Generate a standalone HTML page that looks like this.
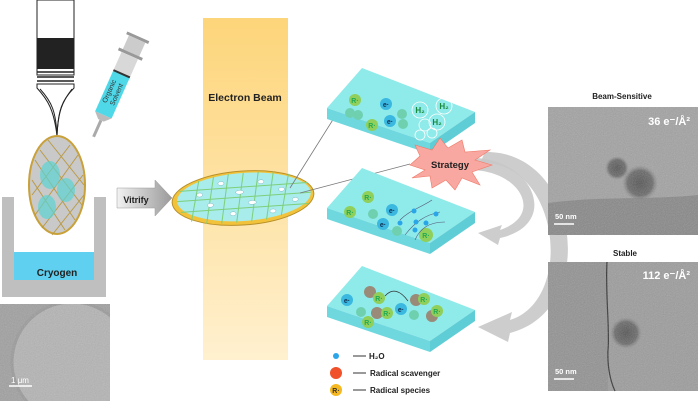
<!DOCTYPE html>
<html><head><meta charset="utf-8"><style>
html,body{margin:0;padding:0;background:#fff;width:699px;height:401px;overflow:hidden;}
svg{display:block;font-family:"Liberation Sans",Arial,sans-serif;font-weight:bold;}
</style></head><body>
<svg width="699" height="401" viewBox="0 0 699 401" xmlns="http://www.w3.org/2000/svg">
<defs>
<linearGradient id="beam" x1="0" y1="0" x2="0" y2="1">
<stop offset="0" stop-color="#fdd57a"/><stop offset="1" stop-color="#fff0cf"/></linearGradient>
<linearGradient id="arr" x1="0" y1="0" x2="1" y2="0">
<stop offset="0" stop-color="#f2f2f2"/><stop offset="1" stop-color="#9a9a9a"/></linearGradient>
<radialGradient id="p1"><stop offset="0" stop-color="#555"/><stop offset="0.7" stop-color="#6a6a6a"/><stop offset="1" stop-color="#8a8a8a" stop-opacity="0"/></radialGradient>
<filter id="noise" x="0" y="0" width="1" height="1"><feTurbulence type="fractalNoise" baseFrequency="0.9" numOctaves="2"/><feColorMatrix type="saturate" values="0"/><feComponentTransfer><feFuncA type="table" tableValues="0 0.3"/></feComponentTransfer></filter>
<clipPath id="cl"><rect x="0" y="304" width="110" height="97"/></clipPath>
</defs>

<rect x="203" y="18" width="85" height="342" fill="url(#beam)"/>
<text x="245" y="101" font-size="10.5" text-anchor="middle" fill="#222">Electron Beam</text>

<rect x="37" y="0" width="37" height="75" fill="#fff" stroke="#222" stroke-width="1"/>
<rect x="37" y="38" width="37" height="31" fill="#222"/>
<line x1="37" y1="72" x2="74" y2="72" stroke="#222" stroke-width="1.5"/>
<line x1="37" y1="77" x2="74" y2="77" stroke="#222" stroke-width="1.5"/>
<line x1="37" y1="81" x2="74" y2="81" stroke="#222" stroke-width="1.5"/>
<path d="M37,84 L74,84 L74,88 C62,100 58,110 57,136 C54,110 48,100 37,88 Z" fill="#fff" stroke="#222" stroke-width="1"/>
<path d="M57,136 C56,112 52,102 40,89 M57,136 C58,112 62,102 72,89" fill="none" stroke="#222"/>

<path d="M2,197 h12 v83 h80 v-83 h12 v100 h-104 Z" fill="#bfbfbf"/>
<rect x="14" y="252" width="80" height="28" fill="#5fd0ef"/>
<text x="57" y="276" font-size="10" text-anchor="middle" fill="#222">Cryogen</text>

<ellipse cx="57" cy="185" rx="28" ry="49" fill="#c9c9c9" stroke="#c9a13a" stroke-width="2"/>
<g stroke="#b8953a" stroke-width="1" opacity="0.9">
<line x1="35" y1="160" x2="75" y2="220"/><line x1="32" y1="180" x2="65" y2="230"/><line x1="40" y1="150" x2="82" y2="205"/><line x1="48" y1="140" x2="84" y2="185"/>
<line x1="35" y1="215" x2="78" y2="155"/><line x1="32" y1="195" x2="70" y2="145"/><line x1="42" y1="228" x2="83" y2="175"/><line x1="52" y1="235" x2="84" y2="195"/>
</g>
<ellipse cx="50" cy="175" rx="10" ry="14" fill="#5dd3d3" opacity="0.7"/>
<ellipse cx="66" cy="190" rx="9" ry="12" fill="#5dd3d3" opacity="0.7"/>
<ellipse cx="47" cy="207" rx="9" ry="12" fill="#5dd3d3" opacity="0.7"/>

<g transform="translate(118,82) rotate(24)">
<rect x="-12" y="-50" width="24" height="3" fill="#999"/>
<rect x="-9" y="-47" width="18" height="15" fill="#ccc"/>
<rect x="-13" y="-32" width="26" height="3" fill="#999"/>
<rect x="-9" y="-29" width="18" height="20" fill="#d8d8d8"/>
<rect x="-9" y="-9" width="18" height="45" fill="#4fd8e8"/>
<rect x="-9" y="-10" width="18" height="2" fill="#333"/>
<path d="M-9,36 L9,36 L3,42 L-3,42 Z" fill="#bbb"/>
<rect x="-1.5" y="42" width="3" height="18" fill="#aaa"/>
<text transform="translate(-2,12) rotate(-90)" font-size="7" font-weight="normal" fill="#333" text-anchor="middle">Organic</text>
<text transform="translate(6,12) rotate(-90)" font-size="7" font-weight="normal" fill="#333" text-anchor="middle">Solvent</text>
</g>

<g clip-path="url(#cl)">
<rect x="0" y="304" width="110" height="97" fill="#a0a0a0"/>
<circle cx="72" cy="362" r="60" fill="#b4b4b4" stroke="#9a9a9a" stroke-width="3"/>
<rect x="0" y="304" width="110" height="97" filter="url(#noise)"/>
</g>
<line x1="9" y1="386" x2="32" y2="386" stroke="#fff" stroke-width="1.5"/>
<text x="20" y="383" font-size="8" font-weight="normal" fill="#fff" text-anchor="middle">1 μm</text>

<path d="M117,188 h38 v-8 l17,18 -17,18 v-8 h-38 Z" fill="url(#arr)" stroke="#999" stroke-width="0.5"/>
<text x="136" y="203" font-size="9" fill="#222" text-anchor="middle">Vitrify</text>

<g transform="rotate(-4 243 198)">
<ellipse cx="243" cy="198" rx="71" ry="27" fill="#f2c33a" stroke="#b8902a"/>
<ellipse cx="244" cy="197" rx="67" ry="24" fill="#a8ecec"/>
<g stroke="#7ecf7a" stroke-width="1">
<line x1="200" y1="178" x2="190" y2="218"/><line x1="215" y1="175" x2="205" y2="221"/><line x1="230" y1="173" x2="220" y2="222"/><line x1="245" y1="173" x2="235" y2="222"/><line x1="260" y1="173" x2="250" y2="222"/><line x1="275" y1="174" x2="265" y2="221"/><line x1="290" y1="177" x2="280" y2="218"/>
<line x1="180" y1="187" x2="308" y2="187"/><line x1="177" y1="197" x2="311" y2="197"/><line x1="180" y1="208" x2="308" y2="208"/>
</g>
<g fill="#fff" stroke="#6ab" stroke-width="0.4">
<ellipse cx="200" cy="192" rx="3" ry="2"/><ellipse cx="222" cy="182" rx="3" ry="2"/><ellipse cx="240" cy="192" rx="4" ry="2"/><ellipse cx="262" cy="183" rx="3" ry="2"/><ellipse cx="282" cy="192" rx="3" ry="2"/>
<ellipse cx="210" cy="203" rx="3" ry="2"/><ellipse cx="232" cy="213" rx="3" ry="2"/><ellipse cx="252" cy="203" rx="4" ry="2"/><ellipse cx="272" cy="213" rx="3" ry="2"/><ellipse cx="295" cy="203" rx="3" ry="2"/>
</g>
</g>

<line x1="290" y1="188" x2="334" y2="118" stroke="#777" stroke-width="0.8"/>
<line x1="300" y1="193" x2="410" y2="164" stroke="#777" stroke-width="0.8"/>

<g id="slab">
<polygon points="327,108 362,68 475,112 430,143" fill="#8feaea"/>
<polygon points="327,108 430,143 430,154 327,119" fill="#6fd8df"/>
<polygon points="430,143 475,112 475,123 430,154" fill="#5fcdd5"/>
</g>
<use href="#slab" y="100"/>
<use href="#slab" y="198"/>

<g font-size="7" text-anchor="middle">
<circle cx="355" cy="100" r="6" fill="#8fcf5a"/><text x="355" y="103" fill="#2a5">R·</text>
<circle cx="350" cy="113" r="5" fill="#6fd0b0"/><circle cx="358" cy="115" r="5" fill="#6fd0b0"/>
<circle cx="372" cy="125" r="6" fill="#8fcf5a"/><text x="372" y="128" fill="#2a5">R·</text>
<circle cx="386" cy="104" r="6" fill="#3bb8e0"/><text x="386" y="107" fill="#135">e·</text>
<circle cx="390" cy="121" r="6" fill="#3bb8e0"/><text x="390" y="124" fill="#135">e·</text>
<circle cx="402" cy="114" r="5" fill="#6fd0b0"/><circle cx="403" cy="124" r="5" fill="#6fd0b0"/>
<g fill="none" stroke="#fff" stroke-width="0.8">
<circle cx="420" cy="110" r="8"/><circle cx="444" cy="106" r="8"/><circle cx="437" cy="122" r="8"/><circle cx="425" cy="125" r="6"/><circle cx="420" cy="135" r="5"/><circle cx="432" cy="133" r="5"/>
</g>
<text x="420" y="113" font-size="8" fill="#1a8a3a">H₂</text><text x="444" y="109" font-size="8" fill="#1a8a3a">H₂</text><text x="437" y="125" font-size="8" fill="#1a8a3a">H₂</text>
</g>

<g font-size="7" text-anchor="middle">
<circle cx="368" cy="197" r="6" fill="#8fcf5a"/><text x="368" y="200" fill="#2a5">R·</text>
<circle cx="350" cy="212" r="6" fill="#8fcf5a"/><text x="350" y="215" fill="#2a5">R·</text>
<circle cx="373" cy="214" r="5" fill="#6fd0b0"/>
<circle cx="392" cy="210" r="6" fill="#3bb8e0"/><text x="392" y="213" fill="#135">e·</text>
<circle cx="383" cy="224" r="6" fill="#3bb8e0"/><text x="383" y="227" fill="#135">e·</text>
<circle cx="397" cy="231" r="5" fill="#6fd0b0"/>
<circle cx="426" cy="235" r="7" fill="#8fcf5a"/><text x="426" y="238" fill="#2a5">R·</text>
<g fill="none" stroke="#557" stroke-width="0.6"><path d="M400,220 C410,210 420,208 432,200"/><path d="M405,235 C415,222 425,215 440,212"/><path d="M415,240 C420,228 430,222 445,222"/></g>
<g fill="#2aa6e8"><circle cx="414" cy="211" r="2.5"/><circle cx="400" cy="223" r="2.5"/><circle cx="416" cy="222" r="2.5"/><circle cx="436" cy="214" r="2.5"/><circle cx="426" cy="223" r="2.5"/><circle cx="415" cy="230" r="2.5"/></g>
</g>

<g font-size="7" text-anchor="middle">
<circle cx="347" cy="300" r="6" fill="#3bb8e0"/><text x="347" y="303" fill="#135">e·</text>
<circle cx="370" cy="292" r="6" fill="#9a8a78"/><circle cx="379" cy="298" r="6" fill="#8fcf5a"/><text x="379" y="301" fill="#2a5">R·</text>
<path d="M385,296 C392,288 400,290 408,301" fill="none" stroke="#333" stroke-width="0.7"/>
<circle cx="416" cy="300" r="6" fill="#9a8a78"/><circle cx="424" cy="299" r="6" fill="#8fcf5a"/><text x="424" y="302" fill="#2a5">R·</text>
<circle cx="361" cy="312" r="5" fill="#6fd0b0"/>
<circle cx="377" cy="313" r="6" fill="#9a8a78"/><circle cx="387" cy="313" r="6" fill="#8fcf5a"/><text x="387" y="316" fill="#2a5">R·</text>
<circle cx="401" cy="309" r="6" fill="#3bb8e0"/><text x="401" y="312" fill="#135">e·</text>
<circle cx="414" cy="315" r="5" fill="#6fd0b0"/>
<circle cx="432" cy="316" r="6" fill="#9a8a78"/><circle cx="437" cy="311" r="6" fill="#8fcf5a"/><text x="437" y="314" fill="#2a5">R·</text>
<circle cx="368" cy="322" r="6" fill="#8fcf5a"/><text x="368" y="325" fill="#2a5">R·</text>
</g>

<path d="M470,170 C520,170 545,215 500,230 L502,225 L478,233 L498,245 L500,238 C560,225 535,160 475,158 Z" fill="#c8c8c8" opacity="0.9"/>
<path d="M480,163 C560,160 575,300 510,320 L512,312 L478,327 L508,342 L510,333 C600,310 580,150 485,152 Z" fill="#c8c8c8" opacity="0.9"/>

<polygon points="410,165 420,156 415,145 432,150 440,138 448,148 462,140 465,152 490,150 475,160 492,165 472,172 480,185 462,178 455,190 446,180 432,188 430,176 412,178 425,170" fill="#f8a8a0" stroke="#f07868" stroke-width="0.6"/>
<text x="450" y="168" font-size="9.5" text-anchor="middle" fill="#222">Strategy</text>

<circle cx="336" cy="356" r="3" fill="#2aa6e8"/>
<line x1="353" y1="356" x2="366" y2="356" stroke="#333"/>
<text x="369" y="359" font-size="8" fill="#222">H₂O</text>
<circle cx="336" cy="373" r="6" fill="#f0502a"/>
<line x1="353" y1="373" x2="366" y2="373" stroke="#333"/>
<text x="370" y="376" font-size="8" fill="#222">Radical scavenger</text>
<circle cx="336" cy="390" r="6" fill="#f5b820"/><text x="336" y="393" font-size="7" text-anchor="middle" fill="#333">R·</text>
<line x1="353" y1="390" x2="366" y2="390" stroke="#333"/>
<text x="370" y="393" font-size="8" fill="#222">Radical species</text>

<text x="622" y="99" font-size="8" text-anchor="middle" fill="#222">Beam-Sensitive</text>
<rect x="548" y="107" width="150" height="128" fill="#a2a2a2"/>
<path d="M548,203 C600,196 650,200 698,195 V235 H548 Z" fill="#888"/>
<circle cx="617" cy="168" r="12" fill="url(#p1)"/>
<circle cx="640" cy="183" r="18" fill="url(#p1)"/>
<rect x="548" y="107" width="150" height="128" filter="url(#noise)"/>
<text x="690" y="125" font-size="11" text-anchor="end" fill="#fff">36 e⁻/Å²</text>
<line x1="554" y1="224" x2="574" y2="224" stroke="#fff" stroke-width="1.5"/>
<text x="555" y="219" font-size="7.5" fill="#fff">50 nm</text>

<text x="625" y="256" font-size="8" text-anchor="middle" fill="#222">Stable</text>
<rect x="548" y="262" width="150" height="129" fill="#9c9c9c"/>
<rect x="548" y="262" width="60" height="129" fill="#929292"/>
<path d="M607,262 C605,290 610,330 608,350 C607,370 612,385 615,391" fill="none" stroke="#333" stroke-width="1.2"/>
<circle cx="626" cy="333" r="16" fill="url(#p1)"/>
<rect x="548" y="262" width="150" height="129" filter="url(#noise)"/>
<text x="690" y="279" font-size="11" text-anchor="end" fill="#fff">112 e⁻/Å²</text>
<line x1="554" y1="379" x2="574" y2="379" stroke="#fff" stroke-width="1.5"/>
<text x="555" y="374" font-size="7.5" fill="#fff">50 nm</text>
</svg>
</body></html>
